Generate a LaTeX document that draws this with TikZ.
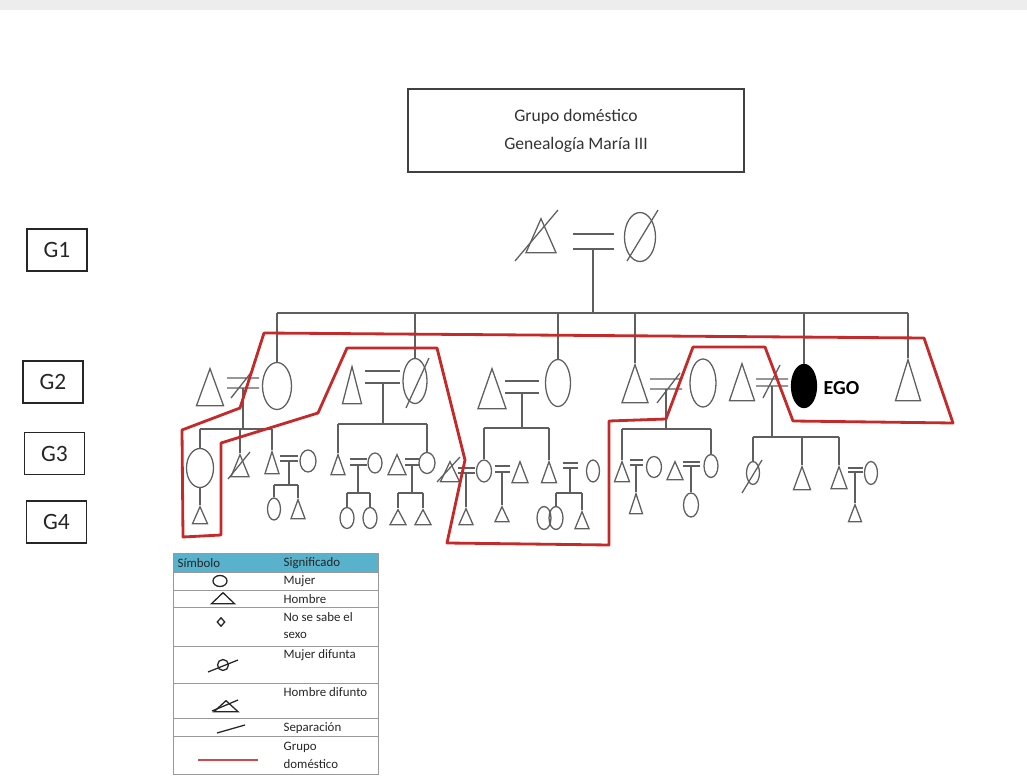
\documentclass[tikz,border=0pt]{standalone}
\usepackage{fontspec}
\setmainfont{Carlito}
\usepackage{tikz}
\usetikzlibrary{shapes.geometric}

\definecolor{lgris}{RGB}{95,95,95}
\definecolor{rojo}{RGB}{196,42,42}
\definecolor{cabecera}{RGB}{88,178,204}

\begin{document}
\begin{tikzpicture}[x=0.3mm, y=-0.3mm, line width=1.1pt, color=lgris,
    man/.style 2 args={draw, isosceles triangle, shape border rotate=90,
        isosceles triangle stretches, inner sep=0pt,
        minimum width=#1, minimum height=#2, anchor=apex},
    woman/.style 2 args={draw, ellipse, inner sep=0pt, minimum width=#1, minimum height=#2},
    genbox/.style={draw=black!85, line width=1.4pt, minimum width=18mm, minimum height=12.6mm,
        text=black!85, font=\fontsize{20}{24}\selectfont},
    hogar/.style={draw=rojo, line width=2.4pt, line join=round},
    leyenda/.style={anchor=west, inner sep=0pt, text=black!85, align=left,
        font=\fontsize{11}{15}\selectfont}]
    \useasboundingbox (0,0) rectangle (1027,783);
    \fill[black!7] (0,0) rectangle (1027,10);

    % 标题
    \node[draw=black!75, line width=1.2pt, minimum width=100.8mm, minimum height=24.9mm,
        align=center, text=black!80, font=\fontsize{15}{24}\selectfont]
        (titulo) at (576,130.5) {Grupo doméstico\\Genealogía María III};

    % 代际标记
    \node[genbox] (g1) at (57,250) {G1};
    \node[genbox] (g2) at (53,382) {G2};
    \node[genbox] (g3) at (54.5,453.5) {G3};
    \node[genbox] (g4) at (56.5,522) {G4};

    % G1
    \node[man={9mm}{10.2mm}] (g1m) at (541,217) {};
    \node[woman={9.3mm}{14.7mm}] (g1w) at (640,237) {};
    \draw (g1m.apex) ++(-26,44) -- ++(43,-51);
    \draw (g1w) ++(-13,24) -- ++(31,-51);
    \coordinate (u0) at (593,249);
    \draw (u0) ++(-20,0) -- ++(41,0) (u0) ++(-20,-15) -- ++(41,0);
    \coordinate (s0) at (0,313);

    % G2
    \node[man={8.1mm}{11.1mm}] (g2m1) at (210,367) {};
    \node[woman={8.7mm}{14.1mm}] (g2w1) at (277,386) {};
    \node[man={5.7mm}{11.1mm}] (g2m2) at (352,365) {};
    \node[woman={7.2mm}{13.5mm}] (g2w2) at (415,381) {};
    \node[man={8.4mm}{12mm}] (g2m3) at (492,367) {};
    \node[woman={7.5mm}{14.1mm}] (g2w3) at (558,383) {};
    \node[man={7.8mm}{11.4mm}] (g2m4) at (635,363) {};
    \node[woman={7.8mm}{14.4mm}] (g2w4) at (703,383) {};
    \node[man={7.5mm}{11.1mm}] (g2m5) at (742,362) {};
    \node[woman={7.5mm}{12.9mm}, fill=black, draw=black] (ego) at (804,386) {};
    \node[right, inner sep=0pt, text=black, font=\bfseries\fontsize{17}{20}\selectfont]
        (egotxt) at (823,388) {EGO};
    \node[man={7.5mm}{12.3mm}] (g2m6) at (908,358) {};
    \draw (g2w2) ++(-9,27) -- ++(23,-50);

    \draw (u0) -- (u0 |- s0);
    \draw (g2w1.north |- s0) -- (g2m6.apex |- s0);
    \draw (g2w1.north) -- (g2w1.north |- s0);
    \draw (g2w2.north) -- (g2w2.north |- s0);
    \draw (g2w3.north) -- (g2w3.north |- s0);
    \draw (g2m4.apex) -- (g2m4.apex |- s0);
    \draw (ego.north) -- (ego.north |- s0);
    \draw (g2m6.apex) -- (g2m6.apex |- s0);

    % G2 的婚姻
    \coordinate (u21) at (243,388);
    \coordinate (u22) at (383,383);
    \coordinate (u23) at (522,393);
    \coordinate (u24) at (666,389);
    \coordinate (u25) at (772,386);
    \draw (u21) ++(-16,0) -- ++(32,0) (u21) ++(-16,-10) -- ++(32,0) (u21) ++(-12,10) -- ++(22,-28);
    \draw (u22) ++(-18,0) -- ++(35,0) (u22) ++(-18,-12) -- ++(35,0);
    \draw (u23) ++(-17,0) -- ++(34,0) (u23) ++(-17,-12) -- ++(34,0);
    \draw (u24) ++(-16,0) -- ++(32,0) (u24) ++(-16,-10) -- ++(32,0) (u24) ++(-9,14) -- ++(23,-30);
    \draw (u25) ++(-16,0) -- ++(32,0) (u25) ++(-16,-7) -- ++(32,0) (u25) ++(-9,12) -- ++(17,-33);
    \coordinate (s21) at (0,429);
    \coordinate (s22) at (0,424);
    \coordinate (s23) at (0,428);
    \coordinate (s24) at (0,429);
    \coordinate (s25) at (0,437);

    % G3
    \node[woman={8.1mm}{11.7mm}] (g3w1) at (200,468) {};
    \node[man={5.4mm}{6.6mm}] (g3m1) at (240,453) {};
    \node[man={4.2mm}{6.6mm}] (g3m2) at (272,450) {};
    \node[woman={4.8mm}{6.6mm}] (g3w2) at (308,461) {};
    \node[man={4.2mm}{6mm}] (g3m3) at (338,453) {};
    \node[woman={4.2mm}{6mm}] (g3w3) at (375,463) {};
    \node[man={5.4mm}{6mm}] (g3m4) at (397,453) {};
    \node[woman={4.8mm}{6.3mm}] (g3w4) at (427,463) {};
    \node[man={5.7mm}{6mm}] (g3m5) at (450,460) {};
    \node[woman={4.5mm}{6.6mm}] (g3w5) at (484,471) {};
    \node[man={4.8mm}{6.3mm}] (g3m6) at (520,460) {};
    \node[man={4.5mm}{6.3mm}] (g3m7) at (549,460) {};
    \node[woman={3.9mm}{6.6mm}] (g3w7) at (593,471) {};
    \node[man={4.5mm}{6mm}] (g3m8) at (622,460) {};
    \node[woman={4.5mm}{6.3mm}] (g3w8) at (654,467) {};
    \node[man={4.8mm}{5.4mm}] (g3m9) at (675,460) {};
    \node[woman={4.2mm}{6.9mm}] (g3w9) at (711,466) {};
    \node[woman={3.9mm}{6.9mm}] (g3wa) at (753,473) {};
    \node[man={5.1mm}{6.9mm}] (g3ma) at (802,465) {};
    \node[man={4.8mm}{6.6mm}] (g3mb) at (839,465) {};
    \node[woman={3.9mm}{6.9mm}] (g3wb) at (871,473) {};
    \draw (g3m1.apex) ++(-12,26) -- ++(22,-27);
    \draw (g3m5.apex) ++(-13,22) -- ++(23,-25);
    \draw (g3wa) ++(-11,20) -- ++(20,-33);

    \draw (u21) -- (u21 |- s21) (g3w1.north |- s21) -- (g3m2.apex |- s21);
    \draw (g3w1.north) -- (g3w1.north |- s21);
    \draw (g3m1.apex) -- (g3m1.apex |- s21);
    \draw (g3m2.apex) -- (g3m2.apex |- s21);
    \draw (u22) -- (u22 |- s22) (g3m3.apex |- s22) -- (g3w4.north |- s22);
    \draw (g3m3.apex) -- (g3m3.apex |- s22);
    \draw (g3w4.north) -- (g3w4.north |- s22);
    \draw (u23) -- (u23 |- s23) (g3w5.north |- s23) -- (g3m7.apex |- s23);
    \draw (g3w5.north) -- (g3w5.north |- s23);
    \draw (g3m7.apex) -- (g3m7.apex |- s23);
    \draw (u24) -- (u24 |- s24) (g3m8.apex |- s24) -- (g3w9.north |- s24);
    \draw (g3m8.apex) -- (g3m8.apex |- s24);
    \draw (g3w9.north) -- (g3w9.north |- s24);
    \draw (u25) -- (u25 |- s25) (g3wa.north |- s25) -- (g3mb.apex |- s25);
    \draw (g3wa.north) -- (g3wa.north |- s25);
    \draw (g3ma.apex) -- (g3ma.apex |- s25);
    \draw (g3mb.apex) -- (g3mb.apex |- s25);

    % G3 的婚姻
    \coordinate (u32) at (289,461);
    \coordinate (u33) at (358,465);
    \coordinate (u34) at (412,465);
    \coordinate (u35) at (466,473);
    \coordinate (u36) at (502,472);
    \coordinate (u37) at (570,468);
    \coordinate (u38) at (636,465);
    \coordinate (u39) at (691,466);
    \coordinate (u3b) at (855,472);
    \draw (u32) ++(-9,0) -- ++(18,0) (u32) ++(-9,-5) -- ++(18,0);
    \draw (u33) ++(-8,0) -- ++(17,0) (u33) ++(-8,-6) -- ++(17,0);
    \draw (u34) ++(-7,0) -- ++(15,0) (u34) ++(-7,-6) -- ++(15,0);
    \draw (u35) ++(-8,0) -- ++(17,0) (u35) ++(-8,-5) -- ++(17,0);
    \draw (u36) ++(-7,0) -- ++(15,0) (u36) ++(-7,-6) -- ++(15,0);
    \draw (u37) ++(-7,0) -- ++(15,0) (u37) ++(-7,-5) -- ++(15,0);
    \draw (u38) ++(-6,0) -- ++(13,0) (u38) ++(-6,-5) -- ++(13,0);
    \draw (u39) ++(-8,0) -- ++(17,0) (u39) ++(-8,-4) -- ++(17,0);
    \draw (u3b) ++(-7,0) -- ++(15,0) (u3b) ++(-7,-4) -- ++(15,0);
    \coordinate (s32) at (0,485);
    \coordinate (s33) at (0,493);
    \coordinate (s34) at (0,493);
    \coordinate (s37) at (0,493);

    % G4
    \node[man={4.5mm}{5.1mm}] (g4m0) at (200,505) {};
    \node[woman={3.9mm}{6.6mm}] (g4w1) at (274,509) {};
    \node[man={4.2mm}{5.7mm}] (g4m1) at (298,498) {};
    \node[woman={4.2mm}{6.3mm}] (g4w2) at (347,518) {};
    \node[woman={4.2mm}{6.3mm}] (g4w3) at (370,518) {};
    \node[man={4.8mm}{4.5mm}] (g4m2) at (398,508) {};
    \node[man={4.8mm}{4.5mm}] (g4m3) at (423,508) {};
    \node[man={4.2mm}{4.8mm}] (g4m4) at (466,507) {};
    \node[man={4.2mm}{4.5mm}] (g4m5) at (502,505) {};
    \node[woman={4.2mm}{6.9mm}] (g4w4) at (544,518) {};
    \node[woman={4.2mm}{6.9mm}] (g4w5) at (556,518) {};
    \node[man={4.2mm}{5.1mm}] (g4m6) at (582,510) {};
    \node[man={3.9mm}{6mm}] (g4m7) at (636,492) {};
    \node[woman={4.5mm}{7.2mm}] (g4w6) at (691,505) {};
    \node[man={3.9mm}{5.1mm}] (g4m8) at (855,503) {};

    \draw (g3w1.south) -- (g4m0.apex);
    \draw (u32) -- (u32 |- s32) (g4w1.north |- s32) -- (g4m1.apex |- s32);
    \draw (g4w1.north) -- (g4w1.north |- s32);
    \draw (g4m1.apex) -- (g4m1.apex |- s32);
    \draw (u33) -- (u33 |- s33) (g4w2.north |- s33) -- (g4w3.north |- s33);
    \draw (g4w2.north) -- (g4w2.north |- s33);
    \draw (g4w3.north) -- (g4w3.north |- s33);
    \draw (u34) -- (u34 |- s34) (g4m2.apex |- s34) -- (g4m3.apex |- s34);
    \draw (g4m2.apex) -- (g4m2.apex |- s34);
    \draw (g4m3.apex) -- (g4m3.apex |- s34);
    \draw (u35) -- (g4m4.apex);
    \draw (u36) -- (g4m5.apex);
    \draw (u37) -- (u37 |- s37) (g4w5.north |- s37) -- (g4m6.apex |- s37);
    \draw (g4w5.north) -- (g4w5.north |- s37);
    \draw (g4m6.apex) -- (g4m6.apex |- s37);
    \draw (u38) -- (g4m7.apex);
    \draw (u39) -- (g4w6.north);
    \draw (u3b) -- (g4m8.apex);

    % 家庭群体
    \draw[hogar] (182,430) -- (240,408) -- (264,333) -- (924,338) -- (953,423)
        -- (793,421) -- (765,347) -- (693,347) -- (666,419) -- (609,421)
        -- (609,545) -- (447,543) -- (465,460) -- (437,348) -- (347,348)
        -- (318,413) -- (221,443) -- (221,535) -- (183,537) -- cycle;

    % 图例
    \fill[cabecera] (173,553) rectangle (378,572);
    \draw[black!40, line width=0.6pt] (173,553) rectangle (378,774);
    \foreach \y in {572,590,607,646,683,718,736}
        \draw[black!40, line width=0.6pt] (173,\y) -- (378,\y);
    \node[leyenda] (hsim) at (177,563) {Símbolo};
    \node[leyenda] (hsig) at (283,563) {Significado};
    \node[woman={4.2mm}{3.3mm}, draw=black!85] (lmujer) at (220,581) {};
    \node[leyenda] (tmujer) at (283,581) {Mujer};
    \node[man={6.9mm}{3.3mm}, draw=black!85] (lhombre) at (223,591) {};
    \node[leyenda] (thombre) at (283,599) {Hombre};
    \node[diamond, draw=black!85, inner sep=0pt, minimum width=2.4mm, minimum height=2.7mm]
        (lnose) at (221,622) {};
    \node[leyenda] (tnose) at (283,625.5) {No se sabe el\\sexo};
    \node[woman={3.3mm}{3.3mm}, draw=black!85] (lmdif) at (223,665) {};
    \draw[black!85] (lmdif) ++(-15,7) -- ++(30,-12);
    \node[leyenda] (tmdif) at (283,655) {Mujer difunta};
    \node[man={7.2mm}{3.3mm}, draw=black!85] (lhdif) at (226,699) {};
    \draw[black!85] (lhdif.apex) ++(-14,12) -- ++(26,-11);
    \node[leyenda] (thdif) at (283,692) {Hombre difunto};
    \draw[black!85] (217,733) -- (245,725);
    \node[leyenda] (tsep) at (283,728) {Separación};
    \draw[rojo!85, line width=2.4pt] (198,760) -- (258,760);
    \node[leyenda] (tgrupo) at (283,755.5) {Grupo\\doméstico};
\end{tikzpicture}
\end{document}
